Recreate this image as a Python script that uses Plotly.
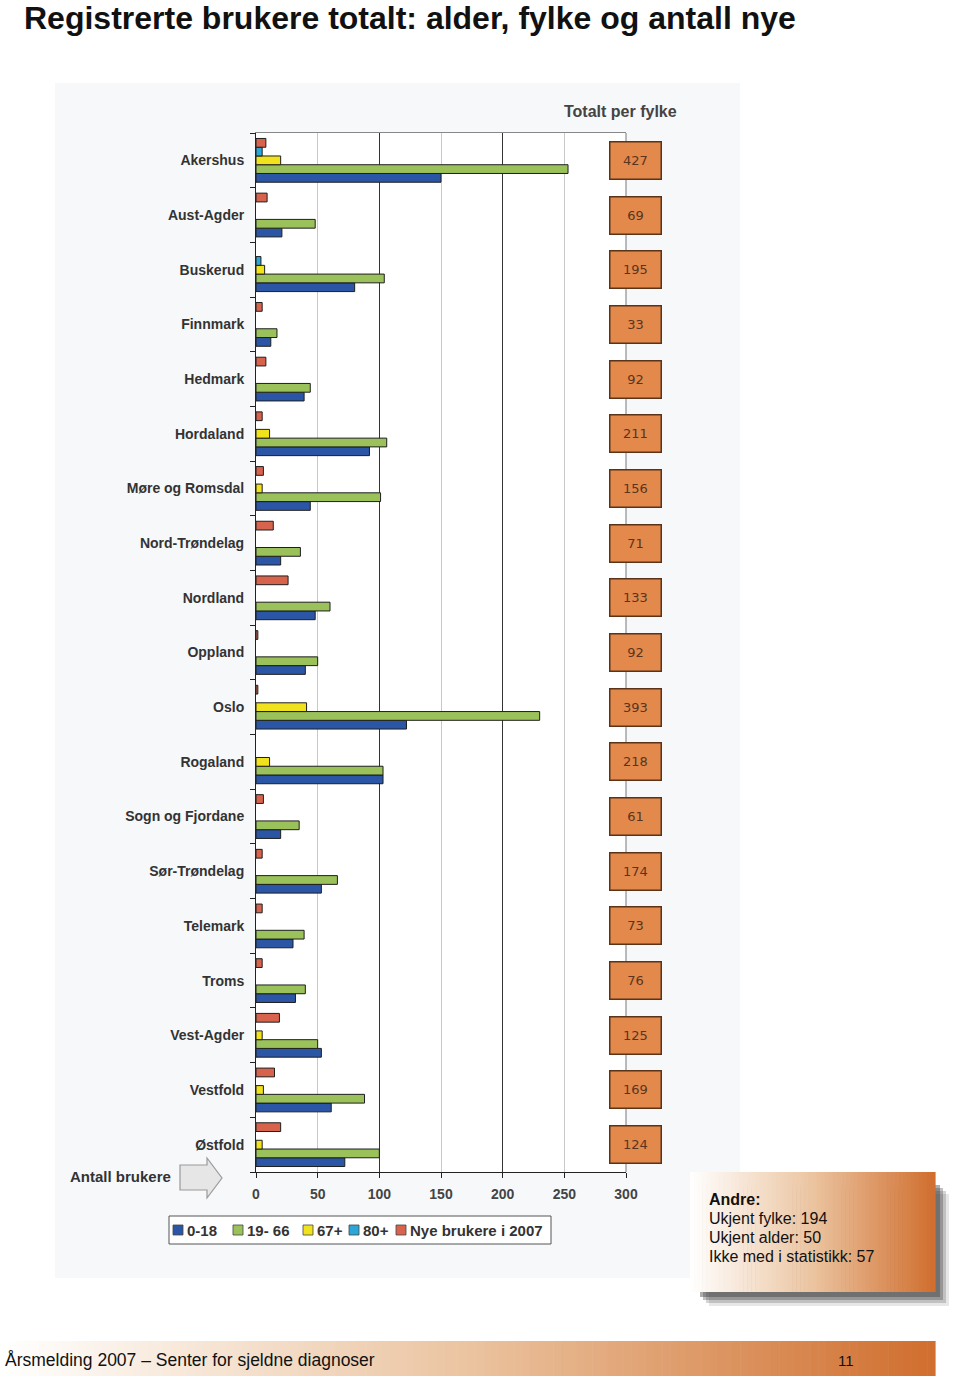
import plotly.graph_objects as go

# ---------------- data ----------------
categories = ["Akershus", "Aust-Agder", "Buskerud", "Finnmark", "Hedmark", "Hordaland",
              "Møre og Romsdal", "Nord-Trøndelag", "Nordland", "Oppland", "Oslo", "Rogaland",
              "Sogn og Fjordane", "Sør-Trøndelag", "Telemark", "Troms", "Vest-Agder",
              "Vestfold", "Østfold"]
age_0_18 = [150, 21, 80, 12, 39, 92, 44, 20, 48, 40, 122, 103, 20, 53, 30, 32, 53, 61, 72]
age_19_66 = [253, 48, 104, 17, 44, 106, 101, 36, 60, 50, 230, 103, 35, 66, 39, 40, 50, 88, 100]
age_67 = [20, 0, 7, 0, 0, 11, 5, 0, 0, 0, 41, 11, 0, 0, 0, 0, 5, 6, 5]
age_80 = [5, 0, 4, 0, 0, 0, 0, 0, 0, 0, 0, 0, 0, 0, 0, 0, 0, 0, 0]
new_2007 = [8, 9, 0, 5, 8, 5, 6, 14, 26, 1.5, 1.5, 0, 6, 5, 5, 5, 19, 15, 20]
totals = [427, 69, 195, 33, 92, 211, 156, 71, 133, 92, 393, 218, 61, 174, 73, 76, 125, 169, 124]
series_names = ["0-18", "19- 66", "67+", "80+", "Nye brukere i 2007"]
x_ticks = [0, 50, 100, 150, 200, 250, 300]

andre_lines = ["<b>Andre:</b>", "Ukjent fylke: 194", "Ukjent alder: 50", "Ikke med i statistikk: 57"]

# ---------------- layout helpers ----------------
W, H = 960, 1377
def px(x):
    return x / W
def py(y):
    return 1 - y / H

colors = ["#2B56A6", "#9BC25A", "#F0E21C", "#2CA6D6", "#D7634D"]
series = [age_0_18, age_19_66, age_67, age_80, new_2007]

fig = go.Figure()
for name, vals, col in zip(series_names, series, colors):
    fig.add_trace(go.Bar(
        y=categories, x=[v if v else None for v in vals], name=name, orientation="h",
        marker=dict(color=col, line=dict(color="#1e1e1e", width=1)),
        xaxis="x", yaxis="y", hoverinfo="x+y+name", showlegend=False))

# invisible trace to activate x2 overlay axis
fig.add_trace(go.Scatter(x=[0], y=[categories[0]], xaxis="x2", yaxis="y",
                         mode="markers", marker=dict(opacity=0), showlegend=False,
                         hoverinfo="skip"))

plot_l, plot_r, plot_t, plot_b = 256, 626, 133, 1172

shapes = []
# faint scan background
shapes.append(dict(type="rect", xref="paper", yref="paper", x0=px(55), x1=px(740),
                   y0=py(1278), y1=py(83), fillcolor="#f7f8fa", line=dict(width=0), layer="below"))
shapes.append(dict(type="rect", xref="paper", yref="paper", x0=px(plot_l), x1=px(plot_r),
                   y0=py(plot_b), y1=py(plot_t), fillcolor="white", line=dict(width=0), layer="below"))

def lerp(c1, c2, t):
    return tuple(int(round(a + (b - a) * t)) for a, b in zip(c1, c2))

def grad_color(t, stops):
    for i in range(len(stops) - 1):
        p0, c0 = stops[i]
        p1, c1 = stops[i + 1]
        if p0 <= t <= p1:
            return "rgb(%d,%d,%d)" % lerp(c0, c1, (t - p0) / (p1 - p0))
    return "rgb(%d,%d,%d)" % stops[-1][1]

stops = [(0.0, (255, 255, 255)), (0.5, (235, 196, 160)), (1.0, (208, 110, 46))]

# shadow for Andre box
for off, op in [(14, 0.12), (11, 0.22), (8, 0.32), (5, 0.42)]:
    shapes.append(dict(type="rect", xref="paper", yref="paper",
                       x0=px(700 + off - 5), x1=px(935 + off), y0=py(1292 + off), y1=py(1185 + off - 5),
                       fillcolor="rgba(60,60,60,%.2f)" % op, line=dict(width=0), layer="below"))

def gradient_rect(x0, x1, y0, y1, n):
    step = (x1 - x0) / n
    for i in range(n):
        t = (i + 0.5) / n
        shapes.append(dict(type="rect", xref="paper", yref="paper",
                           x0=px(x0 + i * step), x1=px(x0 + (i + 1) * step + 0.6),
                           y0=py(y1), y1=py(y0), fillcolor=grad_color(t, stops),
                           line=dict(width=0), layer="below"))

gradient_rect(690, 935, 1172, 1292, 60)
gradient_rect(0, 935, 1341, 1376, 120)

# arrow next to "Antall brukere"
pts = [(180, 1165), (207, 1165), (207, 1158), (222, 1178), (207, 1198), (207, 1190), (180, 1190)]
path = "M " + " L ".join("%f,%f" % (px(x), py(y)) for x, y in pts) + " Z"
shapes.append(dict(type="path", xref="paper", yref="paper", path=path,
                   fillcolor="#e6e6e6", line=dict(color="#9a9a9a", width=1.2)))

# custom legend (box, swatches)
shapes.append(dict(type="rect", xref="paper", yref="paper", x0=px(169), x1=px(551),
                   y0=py(1244), y1=py(1216), fillcolor="white",
                   line=dict(color="#555555", width=1)))
legend_swatch_x = [173, 233, 303, 349, 396]
for sx, col in zip(legend_swatch_x, colors):
    shapes.append(dict(type="rect", xref="paper", yref="paper", x0=px(sx), x1=px(sx + 10),
                       y0=py(1235), y1=py(1225), fillcolor=col,
                       line=dict(color="#444444", width=0.8)))

annotations = []
for sx, name in zip(legend_swatch_x, series_names):
    annotations.append(dict(text="<b>" + name + "</b>", xref="paper", yref="paper",
                            x=px(sx + 12), y=py(1230), xanchor="left", yanchor="middle",
                            showarrow=False,
                            font=dict(family="Liberation Sans", size=15, color="#333333")))
annotations.append(dict(text="<b>Registrerte brukere totalt: alder, fylke og antall nye</b>",
                        xref="paper", yref="paper", x=px(22), y=py(18), xanchor="left", yanchor="middle",
                        showarrow=False, font=dict(family="Liberation Sans", size=32, color="#111111")))
annotations.append(dict(text="<b>Totalt per fylke</b>", xref="paper", yref="paper", x=px(620), y=py(112),
                        xanchor="center", yanchor="middle", showarrow=False,
                        font=dict(family="Liberation Sans", size=16, color="#444444")))
annotations.append(dict(text="<b>Antall brukere</b>", xref="paper", yref="paper", x=px(68), y=py(1176),
                        xanchor="left", yanchor="middle", showarrow=False,
                        font=dict(family="Liberation Sans", size=15, color="#333333")))
for cat, tot in zip(categories, totals):
    annotations.append(dict(text=str(tot), xref="paper", yref="y", x=px(635), y=cat,
                            xanchor="center", yanchor="middle", showarrow=False,
                            width=48, height=34, bgcolor="#E2894B", bordercolor="#5b3318",
                            borderwidth=1.5, borderpad=1,
                            font=dict(family="DejaVu Sans", size=13, color="#5a3420")))
for i, line in enumerate(andre_lines):
    annotations.append(dict(text=line, xref="paper", yref="paper", x=px(707), y=py(1199 + 19 * i),
                            xanchor="left", yanchor="middle", showarrow=False,
                            font=dict(family="Liberation Sans", size=16, color="#111111")))
annotations.append(dict(text="Årsmelding 2007 – Senter for sjeldne diagnoser", xref="paper", yref="paper",
                        x=px(3), y=py(1360), xanchor="left", yanchor="middle", showarrow=False,
                        font=dict(family="Liberation Sans", size=17.5, color="#111111")))
annotations.append(dict(text="11", xref="paper", yref="paper", x=px(846), y=py(1360),
                        xanchor="center", yanchor="middle", showarrow=False,
                        font=dict(family="Liberation Sans", size=15, color="#111111")))

fig.update_layout(
    width=W, height=H, margin=dict(l=0, r=0, t=0, b=0),
    paper_bgcolor="white", plot_bgcolor="rgba(0,0,0,0)",
    barmode="group", bargap=0.2, bargroupgap=0,
    shapes=shapes, annotations=annotations,
    xaxis=dict(domain=[px(plot_l), px(plot_r)], range=[0, 300], tickvals=x_ticks,
               showgrid=True, gridcolor="#c8c8c8", gridwidth=1,
               showline=True, linecolor="#222222", linewidth=1,
               ticks="outside", ticklen=5, tickcolor="#222222", ticklabelstandoff=4,
               tickfont=dict(family="Liberation Sans", size=14, color="#444444", weight="bold"),
               zeroline=False, automargin=False, fixedrange=True),
    xaxis2=dict(overlaying="x", side="top", range=[0, 300], dtick=100, showticklabels=False,
                showgrid=True, gridcolor="#333333", gridwidth=1,
                showline=True, linecolor="#888888", linewidth=1, ticks="",
                zeroline=False, automargin=False, matches="x"),
    yaxis=dict(domain=[py(plot_b), py(plot_t)], categoryorder="array",
               categoryarray=list(reversed(categories)), range=[-0.5, len(categories) - 0.5],
               autorange=False,
               showline=True, linecolor="#222222", linewidth=1, mirror=False,
               ticks="outside", tickson="boundaries", ticklen=5, tickcolor="#222222",
               ticklabelstandoff=8,
               tickfont=dict(family="Liberation Sans", size=14, color="#333333", weight="bold"),
               showgrid=False, automargin=False, fixedrange=True),
    showlegend=False,
)

# right border line of plot area (connects totals)
fig.add_shape(type="line", xref="paper", yref="paper", x0=px(plot_r), x1=px(plot_r),
              y0=py(plot_b), y1=py(plot_t), line=dict(color="#777777", width=1), layer="below")

fig.write_html("out.html", config={"displayModeBar": False},
               post_script="document.body.style.margin='0';document.body.style.padding='0';"
                           "document.body.style.overflow='hidden';")
